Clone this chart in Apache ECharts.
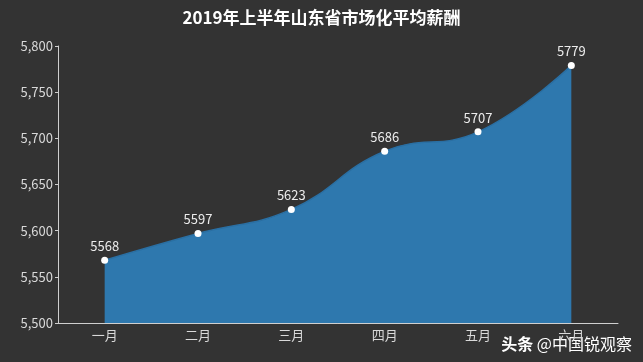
<!DOCTYPE html>
<html><head><meta charset="utf-8">
<script src="https://cdn.jsdelivr.net/npm/echarts@6/dist/echarts.min.js"></script>
<style>html,body{margin:0;padding:0;background:#333333;}#c{width:643px;height:362px;}</style>
</head><body><div id="c"></div>
<script>
var categories = ['一月','二月','三月','四月','五月','六月'];
var salary = [5568, 5597, 5623, 5686, 5707, 5779];
var yMin = 5500, yMax = 5800, yStep = 50;
var titleText = '2019年上半年山东省市场化平均薪酬';
var watermarkA = '头条';
var watermarkB = ' @中国锐观察';

var chart = echarts.init(document.getElementById('c'));
var font = '"Noto Sans CJK SC", "Noto Sans", sans-serif';
chart.setOption({
  backgroundColor: '#333333',
  animation: false,
  textStyle: {fontFamily: font},
  title: {
    text: titleText, left: 'center', top: 4,
    textStyle: {color: '#ffffff', fontSize: 17, fontWeight: 'bold', fontFamily: font}
  },
  grid: {left: 58, right: 25, top: 46, bottom: 39},
  xAxis: {
    type: 'category', data: categories, boundaryGap: true,
    axisLine: {lineStyle: {color: '#cfcfcf', width: 1}},
    axisTick: {inside: true, length: 3, lineStyle: {color: '#cfcfcf'}},
    axisLabel: {color: '#d9d9d9', fontSize: 13, margin: 6, fontFamily: font}
  },
  yAxis: {
    type: 'value', min: yMin, max: yMax, interval: yStep,
    axisLine: {show: true, lineStyle: {color: '#cfcfcf', width: 1}},
    axisTick: {show: true, length: 3, lineStyle: {color: '#cfcfcf'}},
    splitLine: {show: false},
    axisLabel: {color: '#d9d9d9', fontSize: 13, margin: 5, fontFamily: font,
      formatter: function(v){ return v.toLocaleString('en-US'); }}
  },
  series: [{
    type: 'line', data: salary, smooth: 0.45,
    symbol: 'circle', symbolSize: 7,
    itemStyle: {color: '#ffffff', borderColor: '#e8f2fa', borderWidth: 0},
    lineStyle: {color: '#2a6fa3', width: 1.5},
    areaStyle: {color: '#2e78ae', opacity: 1},
    label: {show: true, position: 'top', color: '#ececec', fontSize: 13, distance: 4, fontFamily: font}
  }],
  graphic: [{
    type: 'text', right: 11, bottom: 10,
    style: {
      text: '{a|' + watermarkA + '}{b|' + watermarkB + '}',
      rich: {
        a: {fill: '#ffffff', fontSize: 16, fontWeight: 'bold', fontFamily: font},
        b: {fill: '#ffffff', fontSize: 16, fontWeight: 'normal', fontFamily: font}
      }
    }
  }]
});
</script></body></html>
